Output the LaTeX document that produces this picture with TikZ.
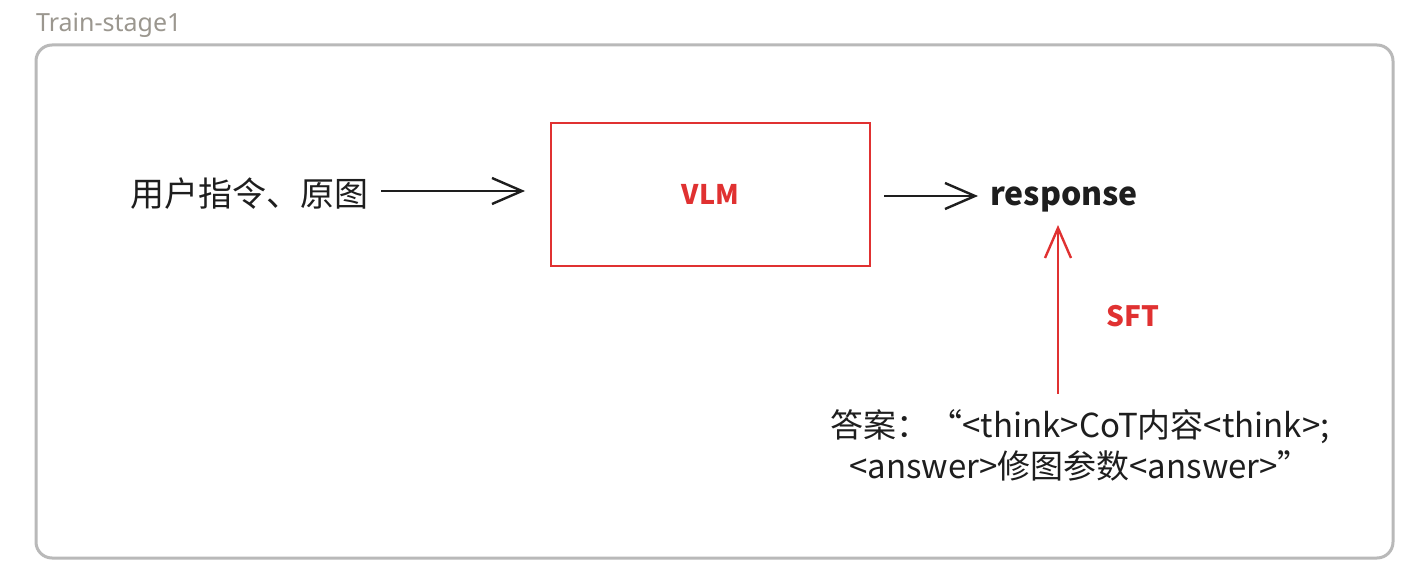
\documentclass[tikz,border=0pt]{standalone}
\usepackage{fontspec}
\setmainfont{Noto Sans CJK SC}
\newfontfamily\cjk{Noto Sans CJK SC}
\newfontfamily\titlefont{Noto Sans}
\usetikzlibrary{arrows.meta}
\definecolor{vred}{RGB}{224,49,49}
\definecolor{framegray}{RGB}{185,185,185}
\definecolor{titlegray}{RGB}{155,151,143}
\definecolor{ink}{RGB}{30,30,30}
\tikzset{
  conn/.style={line width=2.4pt, draw=ink, -{Straight Barb[length=30pt,width=26pt,line width=2.4pt]}},
  redconn/.style={line width=2.4pt, draw=vred, -{Straight Barb[length=30pt,width=26pt,line width=2.4pt]}},
  bigtext/.style={inner sep=0pt, text=ink, font=\cjk\fontsize{34pt}{40pt}\selectfont},
}
\begin{document}
\begin{tikzpicture}[x=1pt,y=-1pt]
\useasboundingbox (0,0) rectangle (1406,578);
\fill[white] (0,0) rectangle (1406,578);
\node[anchor=west, inner sep=0pt, text=titlegray, font=\titlefont\fontsize{25pt}{28pt}\selectfont] (title) at (36,25) {Train-stage1};
\draw[framegray, line width=3pt, rounded corners=16pt] (36,45) rectangle (1393,558);
\node[bigtext, anchor=west] (in) at (130,194) {用户指令、原图};
\node[draw=vred, line width=2pt, minimum width=319pt, minimum height=143pt, inner sep=0pt, text=vred, font=\cjk\fontsize{27pt}{30pt}\selectfont\bfseries] (vlm) at (710.5,194.5) {VLM};
\node[bigtext, anchor=west, font=\cjk\fontsize{32pt}{38pt}\selectfont\bfseries] (resp) at (990,199) {response};
\node[bigtext, align=center, font=\cjk\fontsize{33pt}{41pt}\selectfont] (ans) at (1080,445) {答案：“<think>CoT内容<think>;\\<answer>修图参数<answer>”};
\node[inner sep=0pt, text=vred, font=\cjk\fontsize{28pt}{32pt}\selectfont\bfseries] (sft) at (1133,316) {SFT};
\coordinate (a1) at (525,191);
\draw[conn, shorten <=13pt] (in.east |- a1) -- (a1);
\coordinate (a2) at (978,196);
\draw[conn, shorten <=13pt] (vlm.east |- a2) -- (a2);
\coordinate (rtip) at (1058,225);
\draw[redconn, shorten <=15pt] (rtip |- ans.north) -- (rtip);
\end{tikzpicture}
\end{document}
